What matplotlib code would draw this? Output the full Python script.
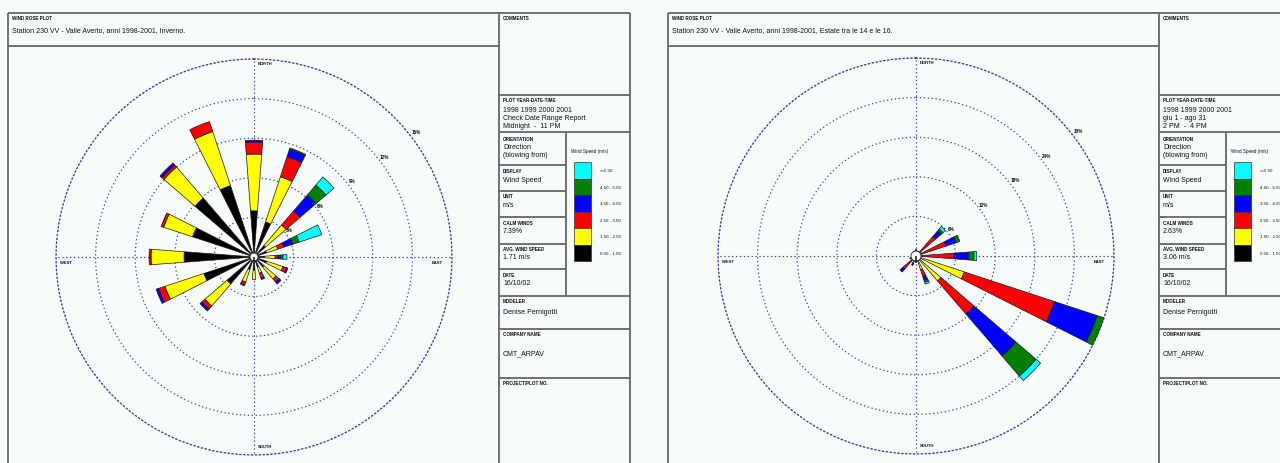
import numpy as np
import matplotlib
matplotlib.use('Agg')
import matplotlib.pyplot as plt
from matplotlib.patches import Rectangle

plt.rcParams['font.family'] = ['Liberation Sans', 'DejaVu Sans']

# ---------------- data ----------------
directions = ['N', 'NNE', 'NE', 'ENE', 'E', 'ESE', 'SE', 'SSE',
              'S', 'SSW', 'SW', 'WSW', 'W', 'WNW', 'NW', 'NNW']
class_labels = ['0.50 - 1.50', '1.50 - 2.50', '2.50 - 3.50',
                '3.50 - 4.50', '4.50 - 5.50', '>=5.50']
class_colors = ['#000000', '#ffff00', '#ff0000', '#0000ff', '#008000', '#00ffff']

# Winter (Inverno) - percent frequency per speed class
winter_050_150 = [3.5, 2.8, 1.15, 1.0, 0.8, 1.0, 1.0, 0.8, 1.0, 1.0, 2.7, 4.0, 5.3, 4.9, 5.9, 5.7]
winter_150_250 = [4.3, 3.6, 2.05, 0.9, 0.8, 1.3, 1.2, 0.5, 0.7, 1.0, 2.2, 3.1, 2.5, 2.3, 3.1, 4.3]
winter_250_350 = [0.9, 1.6, 1.4, 0.5, 0.2, 0.3, 0.3, 0.4, 0.0, 0.2, 0.3, 0.5, 0.15, 0.2, 0.2, 0.8]
winter_350_450 = [0.15, 0.6, 1.6, 0.7, 0.2, 0.1, 0.2, 0.1, 0.0, 0.1, 0.2, 0.2, 0.0, 0.0, 0.2, 0.0]
winter_450_550 = [0.0, 0.1, 1.0, 0.5, 0.2, 0.0, 0.0, 0.0, 0.0, 0.0, 0.0, 0.0, 0.0, 0.0, 0.0, 0.0]
winter_ge_550 = [0.0, 0.0, 0.8, 1.8, 0.3, 0.0, 0.0, 0.0, 0.0, 0.0, 0.0, 0.0, 0.0, 0.0, 0.0, 0.0]

# Summer (Estate, 14-16)
summer_050_150 = [1.0, 0.8, 0.5, 0.5, 0.6, 0.6, 0.5, 0.5, 0.8, 0.7, 1.0, 0.7, 0.6, 0.5, 0.6, 0.8]
summer_150_250 = [0.0, 0.0, 0.3, 0.3, 0.4, 7.1, 4.5, 1.7, 0.0, 0.0, 0.0, 0.0, 0.0, 0.0, 0.0, 0.0]
summer_250_350 = [0.0, 0.0, 3.1, 4.0, 4.7, 14.4, 6.6, 1.1, 0.2, 0.5, 1.6, 0.3, 0.0, 0.0, 0.0, 0.0]
summer_350_450 = [0.0, 0.0, 1.1, 1.6, 2.3, 6.8, 8.4, 0.6, 0.0, 0.3, 0.6, 0.0, 0.0, 0.0, 0.0, 0.0]
summer_450_550 = [0.0, 0.0, 0.4, 0.6, 0.8, 1.1, 4.0, 0.3, 0.0, 0.0, 0.0, 0.0, 0.0, 0.0, 0.0, 0.0]
summer_ge_550 = [0.0, 0.0, 0.5, 0.0, 0.4, 0.8, 0.9, 0.3, 0.0, 0.0, 0.0, 0.0, 0.0, 0.0, 0.0, 0.0]

winter_rings = [3, 6, 9, 12, 15]
summer_rings = [6, 12, 18, 24, 30]

winter_title = 'Station 230 VV - Valle Averto, anni 1998-2001, Inverno.'
summer_title = 'Station 230 VV - Valle Averto, anni 1998-2001, Estate tra le 14 e le 16.'
winter_period = ['1998 1999 2000 2001', 'Check Date Range Report', 'Midnight  -  11 PM']
summer_period = ['1998 1999 2000 2001', 'giu 1 - ago 31', '2 PM  -  4 PM']
winter_calm = '7.39%'
summer_calm = '2.63%'
winter_avg = '1.71 m/s'
summer_avg = '3.06 m/s'
date_text = '16/10/02'
modeler = 'Denise Pernigotti'
company = 'CMT_ARPAV'

# ---------------- figure ----------------
W, H = 1280, 464
BG = '#f7fbf9'
GRID = '#3b3ba6'
LINE = '#666666'

fig = plt.figure(figsize=(W / 100, H / 100), dpi=100, facecolor=BG)
bg = fig.add_axes([0, 0, 1, 1])
bg.set_xlim(0, W)
bg.set_ylim(H, 0)
bg.axis('off')
bg.set_facecolor(BG)

LAB = dict(fontsize=3.3, fontweight='bold', color='#111111', va='center', ha='left')
VAL = dict(fontsize=5.0, color='#111111', va='center', ha='left')


def hline(y, x1, x2):
    bg.plot([x1, x2], [y, y], color=LINE, lw=1.3, solid_capstyle='butt')


def vline(x, y1, y2):
    bg.plot([x, x], [y1, y2], color=LINE, lw=1.3, solid_capstyle='butt')


def draw_panel(x0, title, period, calm, avg):
    xr = x0 + 491          # right column
    xs = xr + 67           # sub divider
    xe = x0 + 622          # right edge
    top = 14
    hline(top, x0, xe)
    vline(x0, top, H + 5)
    vline(xe, top, H + 5)
    vline(xr, top, H + 5)
    hline(47, x0, xr)
    for y in [96, 133, 297, 330, 379]:
        hline(y, xr, xe)
    for y in [166, 192, 218, 245, 270]:
        hline(y, xr, xs)
    vline(xs, 133, 297)

    bg.text(x0 + 4, 19, 'WIND ROSE PLOT', **LAB)
    bg.text(x0 + 4, 31, title, fontsize=5.0, color='#111111', va='center', ha='left')

    tx = xr + 4
    bg.text(tx, 19, 'COMMENTS', **LAB)
    bg.text(tx, 100, 'PLOT YEAR-DATE-TIME', **LAB)
    for i, s in enumerate(period):
        bg.text(tx, 110 + i * 8.5, s, **VAL)
    bg.text(tx, 140, 'ORIENTATION', **LAB)
    bg.text(tx, 148, 'Direction', **VAL)
    bg.text(tx, 156, '(blowing from)', **VAL)
    bg.text(tx, 172, 'DISPLAY', **LAB)
    bg.text(tx, 181, 'Wind Speed', **VAL)
    bg.text(tx, 197, 'UNIT', **LAB)
    bg.text(tx, 206, 'm/s', **VAL)
    bg.text(tx, 224, 'CALM WINDS', **LAB)
    bg.text(tx, 232, calm, **VAL)
    bg.text(tx, 250, 'AVG. WIND SPEED', **LAB)
    bg.text(tx, 258, avg, **VAL)
    bg.text(tx, 276, 'DATE', **LAB)
    bg.text(tx, 284, date_text, **VAL)
    bg.text(tx, 302, 'MODELER', **LAB)
    bg.text(tx, 313, modeler, **VAL)
    bg.text(tx, 335, 'COMPANY NAME', **LAB)
    bg.text(tx, 354, company, **VAL)
    bg.text(tx, 384, 'PROJECT/PLOT NO.', **LAB)

    # legend
    bg.text(xs + 5, 152, 'Wind Speed (m/s)', fontsize=3.3, color='#111111', va='center', ha='left')
    bx, by, bw, bh = xs + 8, 163, 17, 16.5
    for i, (c, lab) in enumerate(zip(class_colors[::-1], class_labels[::-1])):
        bg.add_patch(Rectangle((bx, by + i * bh), bw, bh, facecolor=c,
                               edgecolor='#333333', lw=0.5))
        bg.text(bx + bw + 9, by + i * bh + bh / 2, lab, fontsize=3.2,
                color='#111111', va='center', ha='left')


draw_panel(8, winter_title, winter_period, winter_calm, winter_avg)
draw_panel(668, summer_title, summer_period, summer_calm, summer_avg)

R = 198  # outer ring radius in px


def draw_rose(cx, cy, rings, classes, calm_px):
    rmax = rings[-1]
    ax = fig.add_axes([(cx - R) / W, (H - cy - R) / H, 2 * R / W, 2 * R / H],
                      projection='polar')
    ax.set_facecolor('none')
    ax.set_theta_zero_location('N')
    ax.set_theta_direction(-1)
    ax.set_ylim(0, rmax)
    ax.set_rticks(rings)
    ax.set_yticklabels([])
    ax.set_xticks(np.radians([0, 90, 180, 270]))
    ax.set_xticklabels([])
    ax.grid(True, color=GRID, linestyle=(0, (1.1, 2.2)), lw=0.85)
    ax.spines['polar'].set_color(GRID)
    ax.spines['polar'].set_linestyle((0, (1.1, 2.2)))
    ax.spines['polar'].set_linewidth(0.85)

    theta = np.radians(np.arange(len(directions)) * 22.5)
    cum = np.zeros(len(directions))
    for vals, col in zip(classes, class_colors):
        v = np.asarray(vals, dtype=float)
        m = v > 0
        ax.bar(theta[m], v[m], width=0.15, bottom=cum[m], color=col,
               edgecolor='#1a1a1a', linewidth=0.5, zorder=3)
        cum = cum + v
    # calm circle
    calm_r = calm_px / R * rmax
    ax.bar([0], [calm_r], width=2 * np.pi, bottom=0, color='white',
           edgecolor='#222222', linewidth=0.6, zorder=5)
    # ring labels
    for r in rings:
        ax.text(np.radians(52), r * 1.01, f'{r}%', fontsize=3.3, fontweight='bold',
                color='#111111', ha='left', va='bottom', zorder=6)
    # compass labels
    bg.text(cx + 4, cy - R + 4, 'NORTH', fontsize=3.0, fontweight='bold', color='#111111', va='center', ha='left')
    bg.text(cx + 4, cy + R - 9, 'SOUTH', fontsize=3.0, fontweight='bold', color='#111111', va='center', ha='left')
    bg.text(cx - R + 4, cy + 5, 'WEST', fontsize=3.0, fontweight='bold', color='#111111', va='center', ha='left')
    bg.text(cx + R - 20, cy + 5, 'EAST', fontsize=3.0, fontweight='bold', color='#111111', va='center', ha='left')
    return ax


draw_rose(254, 258, winter_rings,
          [winter_050_150, winter_150_250, winter_250_350, winter_350_450, winter_450_550, winter_ge_550], 4)
draw_rose(916, 257, summer_rings,
          [summer_050_150, summer_150_250, summer_250_350, summer_350_450, summer_450_550, summer_ge_550], 5)

fig.savefig('out.png', dpi=100, facecolor=BG)
